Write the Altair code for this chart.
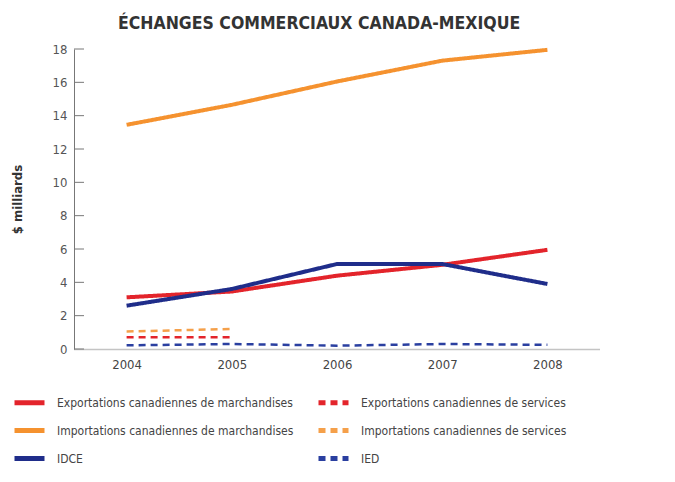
import altair as alt
import pandas as pd

years = [2004, 2005, 2006, 2007, 2008]
exp_merch = [3.1, 3.45, 4.4, 5.05, 5.95]
imp_merch = [13.45, 14.65, 16.05, 17.3, 17.95]
idce = [2.6, 3.6, 5.1, 5.1, 3.9]
serv_years = [2004, 2005]
exp_serv = [0.7, 0.7]
imp_serv = [1.05, 1.2]
ied = [0.22, 0.3, 0.2, 0.3, 0.25]
y_ticks = [0, 2, 4, 6, 8, 10, 12, 14, 16, 18]

S_EM = "Exportations canadiennes de marchandises"
S_ES = "Exportations canadiennes de services"
S_IM = "Importations canadiennes de marchandises"
S_IS = "Importations canadiennes de services"
S_ID = "IDCE"
S_IE = "IED"
order = [S_EM, S_IM, S_ID, S_ES, S_IS, S_IE]
colors = ["#e3242b", "#f5922f", "#1f2d8a", "#e3242b", "#f5a04a", "#2a3fa0"]
dashes = [[1, 0], [1, 0], [1, 0], [7, 5], [7, 5], [7, 5]]

rows = []
for s, yrs, vals in [(S_EM, years, exp_merch), (S_IM, years, imp_merch), (S_ID, years, idce),
                     (S_ES, serv_years, exp_serv), (S_IS, serv_years, imp_serv), (S_IE, years, ied)]:
    for y, v in zip(yrs, vals):
        rows.append({"serie": s, "annee": y, "valeur": v, "style": "solid" if s in (S_EM, S_IM, S_ID) else "dash"})
df = pd.DataFrame(rows)
ticks_df = pd.DataFrame({"valeur": y_ticks})

FONT = "Liberation Sans Narrow, DejaVu Sans Condensed, Arial Narrow, sans-serif"

xscale = alt.Scale(domain=[2003.5, 2008.5], nice=False, zero=False)
yscale = alt.Scale(domain=[0, 18], nice=False)

y_axis = alt.Axis(title="$ milliards", values=y_ticks, ticks=False, grid=False, labelOverlap=False,
                  domainColor="#777", domainWidth=1,
                  labelFont=FONT, labelFontSize=13, labelColor="#555", labelPadding=7,
                  titleFont=FONT, titleFontSize=13, titleFontWeight="bold",
                  titleColor="#333", titleX=-50, titleY=150)

color = alt.Color("serie:N", scale=alt.Scale(domain=order, range=colors),
                  legend=alt.Legend(title=None, orient="none", legendX=-62, legendY=336,
                                    columns=2, columnPadding=14, rowPadding=0,
                                    symbolType="stroke", symbolSize=900, symbolStrokeWidth=5,
                                    labelFont=FONT, labelFontSize=12, labelColor="#444",
                                    labelOffset=10, labelLimit=400))
dash = alt.StrokeDash("serie:N", scale=alt.Scale(domain=order, range=dashes), legend=None)

base = alt.Chart(df).encode(
    x=alt.X("annee:Q", scale=xscale,
            axis=alt.Axis(title=None, values=years, format="d", ticks=False, grid=False,
                          domainColor="#888", domainDash=[1, 1], domainWidth=1.5,
                          labelFont=FONT, labelFontSize=13, labelColor="#444", labelPadding=9)),
    y=alt.Y("valeur:Q", scale=yscale, axis=y_axis),
    color=color,
    strokeDash=dash,
)

solid = base.transform_filter(alt.datum.style == "solid").mark_line(strokeWidth=4)
dashed = base.transform_filter(alt.datum.style == "dash").mark_line(strokeWidth=2.5)

tick_rules = alt.Chart(ticks_df).mark_rule(color="#777", strokeWidth=1).encode(
    y=alt.Y("valeur:Q", scale=yscale, axis=y_axis),
    x=alt.value(0), x2=alt.value(10),
)

chart = alt.layer(tick_rules, solid, dashed).properties(
    width=526, height=300,
    autosize=alt.AutoSizeParams(type="none"),
    padding={"left": 66, "top": 41, "right": 67, "bottom": 125},
    background="white",
    title=alt.Title("ÉCHANGES COMMERCIAUX CANADA-MEXIQUE", font=FONT, fontSize=17.5,
                    fontWeight="bold", color="#333", anchor="start", frame="group",
                    dx=44, offset=9),
).configure_view(strokeWidth=0)

chart.save("out.html", embed_options={"renderer": "svg", "actions": False})
